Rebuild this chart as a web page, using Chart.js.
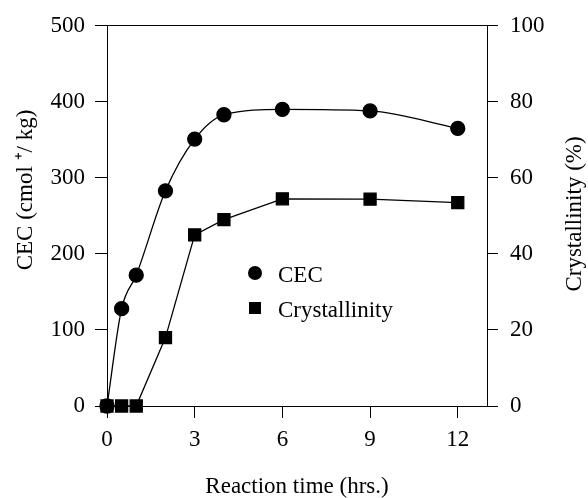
<!DOCTYPE html>
<html>
<head>
<meta charset="utf-8">
<script src="https://cdn.jsdelivr.net/npm/chart.js@4.4.1/dist/chart.umd.min.js"></script>
<style>
  body { margin: 0; background: #fff; }
  #wrap { position: relative; width: 588px; height: 498px; }
  .lg { position: absolute; font-family: "Liberation Serif", serif; font-size: 23px; color: #000; line-height: 23px; }
  .mk { position: absolute; background: #000; }
</style>
</head>
<body>
<div id="wrap">
  <canvas id="myChart" width="588" height="498"></canvas>
  <div class="mk" style="left:248px;top:266px;width:14px;height:14px;border-radius:50%"></div>
  <div class="lg" id="lg1" style="left:278px;top:263px"></div>
  <div class="mk" style="left:249px;top:302px;width:12px;height:12px"></div>
  <div class="lg" id="lg2" style="left:278px;top:298px"></div>
</div>
<script>
// data
const hours = [0, 0.5, 1, 2, 3, 4, 6, 9, 12];
const cec = [0, 128, 172, 283, 351, 383, 390, 388, 365];
const crystallinity = [0, 0, 0, 18, 45, 49, 54.5, 54.4, 53.5];

const xTicks = [0, 3, 6, 9, 12];
const cecTicks = [0, 100, 200, 300, 400, 500];
const crysTicks = [0, 20, 40, 60, 80, 100];

const xTitle = "Reaction time (hrs.)";
const yTitle = "CEC (cmol \u207A/ kg)";
const y2Title = "Crystallinity (%)";
const labels = ["CEC", "Crystallinity"];

document.getElementById("lg1").textContent = labels[0];
document.getElementById("lg2").textContent = labels[1];

const serif = "'Liberation Serif', 'Times New Roman', serif";
const tickFont = { family: serif, size: 23 };

// both y titles read bottom to top
const sideTitles = {
  id: "sideTitles",
  afterDraw(chart) {
    const ctx = chart.ctx;
    function put(text, x, y) {
      ctx.save();
      ctx.translate(x, y);
      ctx.rotate(-Math.PI / 2);
      ctx.font = "23px " + serif;
      ctx.fillStyle = "#000";
      ctx.textAlign = "center";
      ctx.textBaseline = "middle";
      ctx.fillText(text, 0, 0);
      ctx.restore();
    }
    put(yTitle, 26, 190);
    put(y2Title, 575, 214);
  }
};

const ctx = document.getElementById("myChart");

new Chart(ctx, {
  type: "line",
  data: {
    datasets: [{
      label: labels[0],
      data: hours.map((h, i) => ({ x: h, y: cec[i] })),
      yAxisID: "y",
      borderColor: "#000",
      backgroundColor: "#000",
      borderWidth: 1.3,
      pointStyle: "circle",
      pointRadius: 7,
      cubicInterpolationMode: "monotone",
      clip: false
    }, {
      label: labels[1],
      data: hours.map((h, i) => ({ x: h, y: crystallinity[i] })),
      yAxisID: "y2",
      borderColor: "#000",
      backgroundColor: "#000",
      borderWidth: 1.3,
      pointStyle: "rect",
      pointRadius: 8.5,
      tension: 0,
      clip: false
    }]
  },
  options: {
    responsive: false,
    animation: false,
    devicePixelRatio: 1,
    layout: { padding: 0 },
    plugins: { legend: { display: false }, tooltip: { enabled: false } },
    scales: {
      x: {
        type: "linear",
        position: "bottom",
        min: 0,
        max: 13,
        afterBuildTicks: s => { s.ticks = xTicks.map(v => ({ value: v })); },
        afterFit: s => { s.height = 92; },
        grid: { drawOnChartArea: false, tickLength: 12, color: "#000" },
        border: { color: "#000", width: 1 },
        ticks: { font: tickFont, color: "#000", padding: 8, maxRotation: 0 },
        title: { display: true, text: xTitle, color: "#000", font: { family: serif, size: 23, lineHeight: 1 }, padding: 0 }
      },
      xTop: {
        type: "linear",
        axis: "x",
        position: "top",
        min: 0,
        max: 13,
        afterFit: s => { s.height = 21; },
        grid: { display: false },
        border: { color: "#000", width: 1 },
        ticks: { display: false }
      },
      y: {
        position: "left",
        min: 0,
        max: 500,
        afterBuildTicks: s => { s.ticks = cecTicks.map(v => ({ value: v })); },
        afterFit: s => { s.width = 107; },
        grid: { drawOnChartArea: false, tickLength: 12, color: "#000" },
        border: { color: "#000", width: 1 },
        ticks: { font: tickFont, color: "#000", padding: 10 }
      },
      y2: {
        position: "right",
        min: 0,
        max: 100,
        afterBuildTicks: s => { s.ticks = crysTicks.map(v => ({ value: v })); },
        afterFit: s => { s.width = 101; },
        grid: { drawOnChartArea: false, tickLength: 11, color: "#000" },
        border: { color: "#000", width: 1 },
        ticks: { font: tickFont, color: "#000", padding: 12 }
      }
    }
  },
  plugins: [sideTitles]
});
</script>
</body>
</html>
